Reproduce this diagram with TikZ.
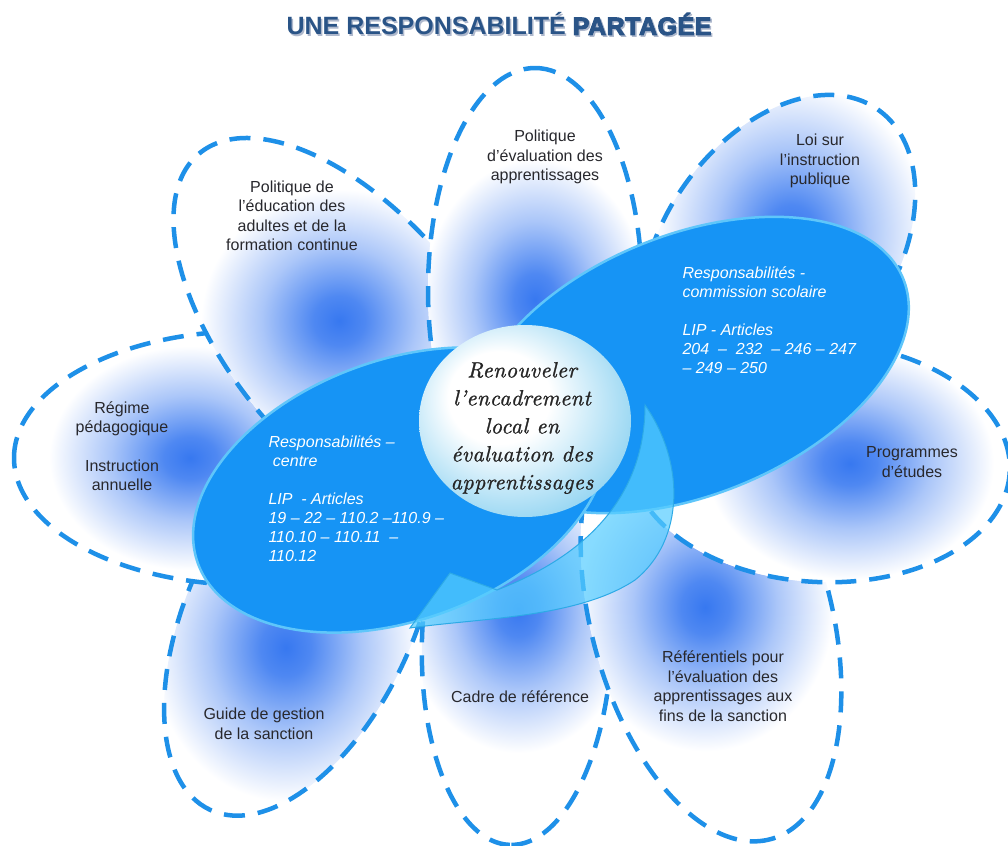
\documentclass[tikz,border=0pt]{standalone}
\usepackage{fontspec}
\setmainfont{Liberation Sans}
\newfontfamily\corefont[Extension=.otf,LetterSpace=2,FakeBold=1.2]{lmroman10-italic}
\newfontfamily\heavyfont[FakeBold=4,LetterSpace=2]{Liberation Sans Bold}
\usetikzlibrary{shapes.geometric}
\definecolor{dashblue}{RGB}{30,144,232}
\definecolor{blobblue}{RGB}{55,120,240}
\definecolor{ovalblue}{RGB}{22,148,245}
\definecolor{ovaledge}{RGB}{95,198,250}
\definecolor{arrowblue}{RGB}{85,205,255}
\definecolor{arrowedge}{RGB}{45,170,230}
\definecolor{corecyan}{RGB}{115,200,238}
\definecolor{titleblue}{RGB}{42,84,135}
\definecolor{titleshade}{RGB}{175,185,205}
\definecolor{textgray}{RGB}{40,40,45}
\pgfdeclareradialshading{coreshade}{\pgfpoint{-8bp}{8bp}}{color(0bp)=(white); color(12bp)=(white); color(30bp)=(corecyan!75!white); color(50bp)=(corecyan)}
\pgfdeclareradialshading{petalglow}{\pgfpoint{0bp}{0bp}}{color(0bp)=(blobblue); color(3bp)=(blobblue!88!white); color(9bp)=(blobblue!42!white); color(16bp)=(white); color(50bp)=(white)}

\newcommand\petal[6]{%
  \begin{scope}[shift={(#1,#2)},rotate=#3]
    \fill[white] (0,0) ellipse [x radius=#4,y radius=#5];
    \begin{scope}
      \clip (0,0) ellipse [x radius=#4,y radius=#5];
      \shade[shading=petalglow] (#6,0) ellipse [x radius=220,y radius=175];
    \end{scope}
    \draw[petaledge] (0,0) ellipse [x radius=#4,y radius=#5];
  \end{scope}}

\begin{document}
\begin{tikzpicture}[x=1pt,y=-1pt,
  petaledge/.style={draw=dashblue,line width=4.5pt,dash pattern=on 21pt off 13pt},
  petaltext/.style={text=textgray,align=center,font=\fontsize{16}{19.5}\selectfont},
  respoval/.style={ellipse,fill=ovalblue,draw=ovaledge,line width=2.5pt,inner sep=0pt},
  ovaltext/.style={text=white,align=left,anchor=west,font=\fontsize{16}{19}\selectfont\itshape},
  coretext/.style={text=black!85,align=center,font=\corefont\fontsize{22}{28}\selectfont},
  titletext/.style={font=\fontsize{25}{30}\selectfont\bfseries}]
\useasboundingbox (0,0) rectangle (1008,845);

\petal{301}{615}{245}{215}{113}{36}
\petal{250}{458}{180}{236}{127}{60}
\petal{517}{640}{-92}{205}{95}{-30}
\petal{711}{617}{-75}{230}{120}{-23}
\petal{820}{462}{-3}{190}{120}{30}
\petal{778}{252}{55}{174}{115}{23}
\petal{352}{336}{130}{238}{120}{20}
\petal{535}{290}{90}{222}{107}{-10}

\node (titleback) [titletext,text=titleshade] at (500.5,25.5) {UNE RESPONSABILITÉ {\heavyfont\mdseries PARTAGÉE}};
\node (title) [titletext,text=titleblue] at (499,24) {UNE RESPONSABILITÉ {\heavyfont\mdseries PARTAGÉE}};

\node (evalpol) [petaltext] at (545,157) {Politique\\d’évaluation des\\apprentissages};
\node (loi) [petaltext] at (820,161) {Loi sur\\l’instruction\\publique};
\node (adultes) [petaltext] at (292,216) {Politique de\\l’éducation des\\adultes et de la\\formation continue};
\node (regime) [petaltext] at (122,446) {Régime\\pédagogique\\[19pt]Instruction\\annuelle};
\node (programmes) [petaltext] at (912,462) {Programmes\\d’études};
\node (referentiels) [petaltext] at (723,686) {Référentiels pour\\l’évaluation des\\apprentissages aux\\fins de la sanction};
\node (cadre) [petaltext] at (520,697) {Cadre de référence};
\node (guide) [petaltext] at (264,724) {Guide de gestion\\de la sanction};

\node (commission) [respoval,minimum width=460,minimum height=260,rotate=22] at (690,365) {};
\node (centre) [respoval,minimum width=430,minimum height=260,rotate=20] at (400,490) {};

\fill[arrowblue,fill opacity=0.7,draw=arrowedge,line width=1pt] (645,405) .. controls (685,462) and (685,540) .. (635,580) .. controls (578,618) and (480,618) .. (410,628) -- (450,573) -- (497,590) .. controls (575,560) and (645,505) .. (645,405) -- cycle;

\node (core) [ellipse,minimum width=212,minimum height=192,shading=coreshade,inner sep=0pt] at (525,421) {};

\node (commtext) [ovaltext] at (679,320) {Responsabilités -\\commission scolaire\\[19pt]LIP - Articles\\204 \ – \ 232 \ – 246 – 247\\– 249 – 250};
\node (centretext) [ovaltext] at (265,499) {Responsabilités –\\\ centre\\[19pt]LIP \ - Articles\\19 – 22 – 110.2 –110.9 –\\110.10 – 110.11 \ –\\110.12};
\node (coretitle) [coretext] at (522,428) {Renouveler\\l’encadrement\\local en\\évaluation des\\apprentissages};
\end{tikzpicture}
\end{document}
